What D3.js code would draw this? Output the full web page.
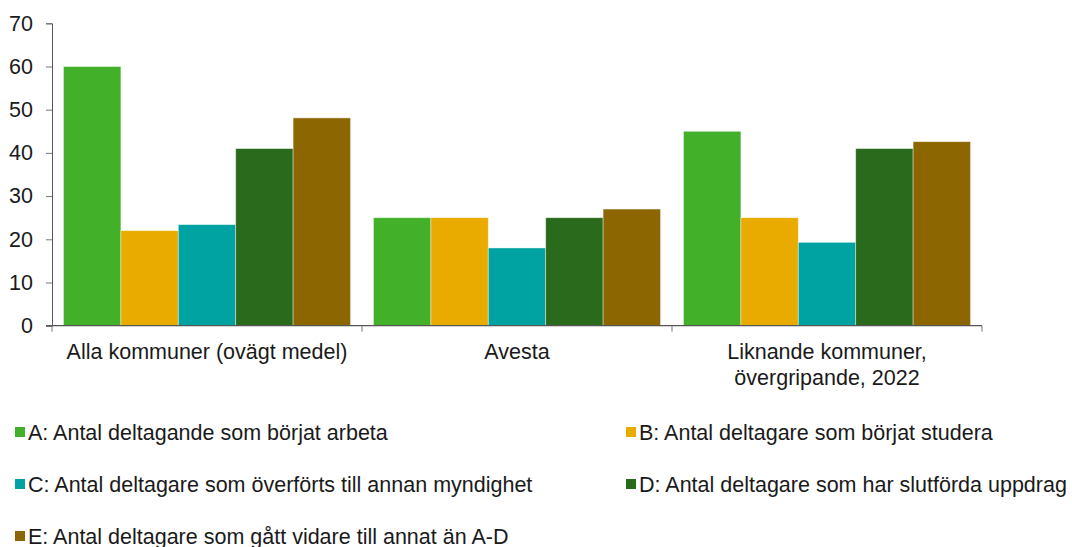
<!DOCTYPE html>
<html>
<head>
<meta charset="utf-8">
<script src="https://cdn.jsdelivr.net/npm/d3@7"></script>
<style>
  body { margin: 0; background: #fff; }
  text { font-family: "Liberation Sans", Arial, sans-serif; fill: #1a1a1a; }
</style>
</head>
<body>
<svg width="1072" height="547"></svg>
<script>
// data
var categories = ["Alla kommuner (ovägt medel)", "Avesta", "Liknande kommuner, övergripande, 2022"];
var categoryLines = [["Alla kommuner (ovägt medel)"], ["Avesta"], ["Liknande kommuner,", "övergripande, 2022"]];
var seriesNames = [
  "A: Antal deltagande som börjat arbeta",
  "B: Antal deltagare som börjat studera",
  "C: Antal deltagare som överförts till annan myndighet",
  "D: Antal deltagare som har slutförda uppdrag",
  "E: Antal deltagare som gått vidare till annat än A-D"
];
var seriesColors = ["#43b02a", "#eaab00", "#00a3a1", "#2a6a1c", "#8c6600"];
var valuesA = [60, 25, 45];
var valuesB = [22, 25, 25];
var valuesC = [23.4, 18, 19.3];
var valuesD = [41, 25, 41];
var valuesE = [48.1, 27, 42.6];
var yTicks = [0, 10, 20, 30, 40, 50, 60, 70];

var series = [valuesA, valuesB, valuesC, valuesD, valuesE];
var fontSize = "21.5px";

var svg = d3.select("svg");

var x0 = d3.scaleBand().domain(categories).range([52, 982]).paddingInner(0).paddingOuter(0);
var x1 = d3.scaleBand().domain(d3.range(series.length)).range([0, x0.bandwidth()]).paddingOuter(0.2);
var y = d3.scaleLinear().domain([0, 70]).range([325.7, 23.3]);

// bars
var groups = svg.append("g")
  .selectAll("g")
  .data(categories)
  .enter().append("g")
  .attr("transform", function(d) { return "translate(" + x0(d) + ",0)"; });

groups.selectAll("rect")
  .data(function(d, i) { return series.map(function(s, j) { return { s: j, v: s[i] }; }); })
  .enter().append("rect")
  .attr("x", function(d) { return x1(d.s); })
  .attr("width", x1.bandwidth())
  .attr("y", function(d) { return y(d.v); })
  .attr("height", function(d) { return y(0) - y(d.v); })
  .attr("fill", function(d) { return seriesColors[d.s]; })
  .attr("stroke", "rgba(255,255,255,0.5)")
  .attr("stroke-width", 0.8);

// y axis
var yAxis = svg.append("g")
  .attr("transform", "translate(52,0)")
  .call(d3.axisLeft(y).tickValues(yTicks).tickSize(6).tickPadding(13));
yAxis.select(".domain").attr("stroke", "#555");
yAxis.selectAll(".tick line").attr("stroke", "#777");
yAxis.selectAll(".tick text").style("font-size", fontSize).attr("fill", "#1a1a1a");

// x axis
var xAxis = svg.append("g")
  .attr("transform", "translate(0," + y(0) + ")");
xAxis.append("line")
  .attr("x1", 46).attr("x2", 982)
  .attr("stroke", "#555").attr("stroke-width", 1.2);
xAxis.selectAll(".xt")
  .data(categories.map(function(c) { return x0(c); }).concat([x0.range()[1]]))
  .enter().append("line")
  .attr("x1", function(d) { return d; }).attr("x2", function(d) { return d; })
  .attr("y1", 0).attr("y2", 6)
  .attr("stroke", "#777");

xAxis.selectAll(".xl")
  .data(categories)
  .enter().append("text")
  .attr("text-anchor", "middle")
  .style("font-size", fontSize)
  .attr("x", function(d) { return x0(d) + x0.bandwidth() / 2; })
  .attr("y", 359 - y(0))
  .each(function(d, i) {
    var t = d3.select(this);
    categoryLines[i].forEach(function(line, k) {
      t.append("tspan")
        .attr("x", x0(d) + x0.bandwidth() / 2)
        .attr("dy", k === 0 ? 0 : 26)
        .text(line);
    });
  });

// legend
var legendX = [15, 626];
var legendY = [440, 492, 544];
var legend = svg.append("g")
  .selectAll("g")
  .data(seriesNames)
  .enter().append("g")
  .attr("transform", function(d, i) {
    return "translate(" + legendX[i % 2] + "," + legendY[Math.floor(i / 2)] + ")";
  });
legend.append("rect")
  .attr("x", 0).attr("y", -13)
  .attr("width", 10).attr("height", 10)
  .attr("fill", function(d, i) { return seriesColors[i]; });
legend.append("text")
  .attr("x", 13).attr("y", 0)
  .style("font-size", fontSize)
  .text(function(d) { return d; });
</script>
</body>
</html>
